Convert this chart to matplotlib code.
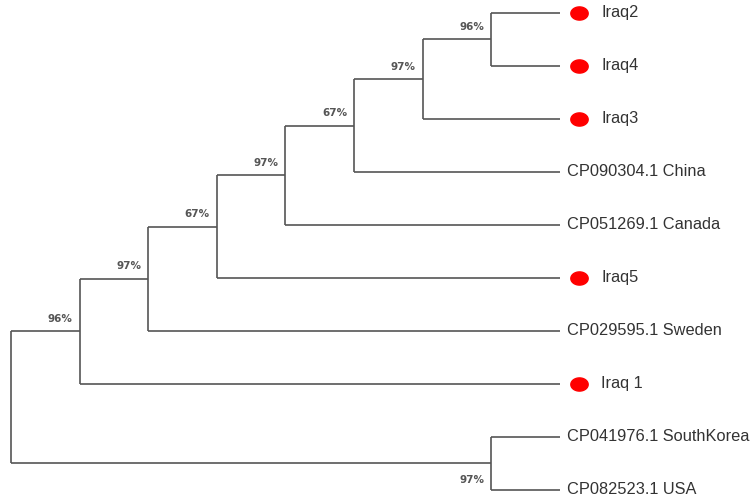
import numpy as np
import matplotlib
matplotlib.use("Agg")
import matplotlib.pyplot as plt
from matplotlib.path import Path

# tips, top to bottom
leaf_names = ["Iraq2", "Iraq4", "Iraq3", "CP090304.1 China", "CP051269.1 Canada",
              "Iraq5", "CP029595.1 Sweden", "Iraq 1", "CP041976.1 SouthKorea", "CP082523.1 USA"]
leaf_marked = [True, True, True, False, False, True, False, True, False, False]
leaf_depth = 8

# internal nodes: children refer to leaves (int) or other nodes (str)
node_ids = ["G", "F", "E", "D", "C", "B", "A", "H", "root"]
node_children = [(0, 1), ("G", 2), ("F", 3), ("E", 4), ("D", 5),
                 ("C", 6), ("B", 7), (8, 9), ("A", "H")]
node_depth = [7, 6, 5, 4, 3, 2, 1, 7, 0]
node_support = ["96%", "97%", "67%", "97%", "67%", "97%", "96%", "97%", ""]

line_col = "#555555"

fig = plt.figure(figsize=(7.52, 5.01), dpi=100)
ax = fig.add_axes([0, 0, 1, 1])
ax.set_xlim(-0.16, 10.8)
ax.set_ylim(9.21, -0.245)
ax.axis("off")

pos = {}
for i in range(len(leaf_names)):
    pos[i] = (leaf_depth, i)

for nid, ch, d in zip(node_ids, node_children, node_depth):
    ys = [pos[c][1] for c in ch]
    pos[nid] = (d, np.mean(ys))

for nid, ch, d, sup in zip(node_ids, node_children, node_depth, node_support):
    x, y = pos[nid]
    ys = [pos[c][1] for c in ch]
    ax.plot([x, x], [min(ys), max(ys)], color=line_col, lw=1.2, solid_capstyle="butt")
    for c in ch:
        cx, cy = pos[c]
        ax.plot([x, cx], [cy, cy], color=line_col, lw=1.2, solid_capstyle="butt")

# support labels sit on the branch leading into each node
for nid, ch in zip(node_ids, node_children):
    for k, c in enumerate(ch):
        if isinstance(c, str):
            j = node_ids.index(c)
            cx, cy = pos[c]
            dy = 9 if k == 0 else -12
            ax.annotate(node_support[j], (cx, cy), xytext=(-5, dy), textcoords="offset points",
                        ha="right", va="center", fontsize=7.5, fontweight="bold",
                        color="#555555", family="DejaVu Sans")

t = np.linspace(0, 2 * np.pi, 40)
ell = Path(np.column_stack([np.cos(t), 0.76 * np.sin(t)]), closed=True)

for i, (name, mk) in enumerate(zip(leaf_names, leaf_marked)):
    x, y = pos[i]
    if mk:
        ax.plot([x + 0.28], [y], marker=ell, markersize=12.5, color="#ff0000", lw=0)
        ax.text(x + 0.6, y, name, ha="left", va="center", fontsize=11.8,
                family="Liberation Sans", color="#333333")
    else:
        ax.text(x + 0.1, y, name, ha="left", va="center", fontsize=11.8,
                family="Liberation Sans", color="#333333")

fig.savefig("out.png", dpi=100)
